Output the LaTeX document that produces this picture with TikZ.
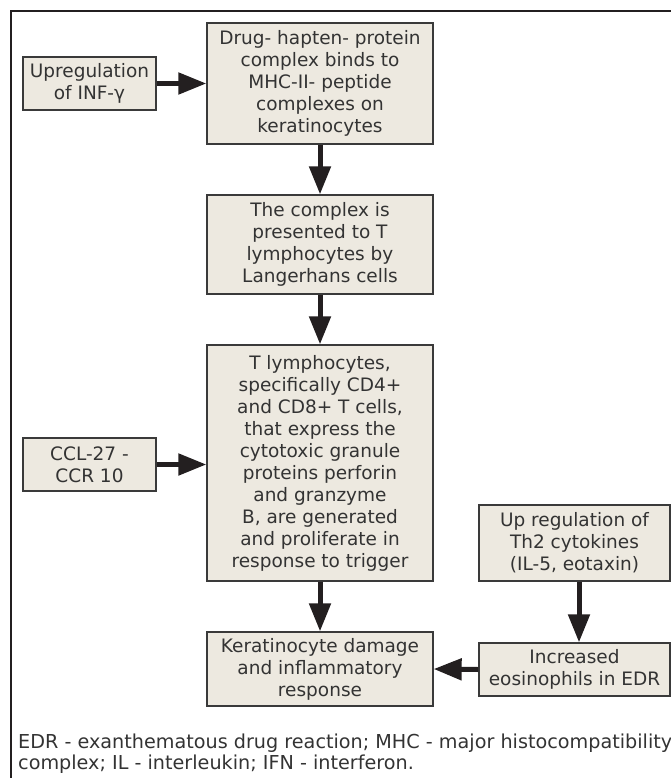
\documentclass[tikz,border=0pt]{standalone}
\usepackage{fontspec}
\setmainfont{DejaVu Sans}
\usetikzlibrary{arrows.meta}
\definecolor{boxfill}{HTML}{EDE9E0}
\definecolor{boxline}{HTML}{3A3A3A}
\definecolor{ink}{HTML}{333333}
\definecolor{arrowink}{HTML}{231F20}
\tikzset{
  flowbox/.style={draw=boxline, line width=1.3pt, fill=boxfill, text=ink,
    align=center, inner sep=0pt,
    font=\fontsize{18.5}{22}\selectfont},
  flowarrow/.style={draw=arrowink, line width=5pt,
    -{Triangle[length=28pt,width=21pt]}},
  captionline/.style={anchor=west, inner sep=0pt, text=ink,
    font=\fontsize{19.2}{21}\selectfont}
}
\begin{document}
\begin{tikzpicture}[x=1pt,y=-1pt]
  \useasboundingbox (0,0) rectangle (671,778);
  \clip (0,0) rectangle (671,778);
  % outer frame, running past the right and bottom edges
  \draw[line width=2.8pt, draw=arrowink] (11,11) rectangle (720,820);

  % boxes
  \node[flowbox, minimum width=133pt, minimum height=53pt] (infg) at (89.5,83.5)
    {Upregulation\\of INF-γ};
  \node[flowbox, minimum width=226pt, minimum height=121pt] (bind) at (320,83.5)
    {Drug- hapten- protein\\complex binds to\\MHC-II- peptide\\complexes on\\keratinocytes};
  \node[flowbox, minimum width=226pt, minimum height=99pt] (present) at (320,244.5)
    {The complex is\\presented to T\\lymphocytes by\\Langerhans cells};
  \node[flowbox, minimum width=226pt, minimum height=236pt] (tcells) at (320,463)
    {T lymphocytes,\\specifically CD4+\\and CD8+ T cells,\\that express the\\cytotoxic granule\\proteins perforin\\and granzyme\\B, are generated\\and proliferate in\\response to trigger};
  \node[flowbox, minimum width=133pt, minimum height=53pt] (ccl) at (89.5,464.5)
    {CCL-27 -\\CCR 10};
  \node[flowbox, minimum width=226pt, minimum height=74pt] (damage) at (320,669)
    {Keratinocyte damage\\and inflammatory\\response};
  \node[flowbox, minimum width=191pt, minimum height=76pt] (th2) at (574.5,543)
    {Up regulation of\\Th2 cytokines\\(IL-5, eotaxin)};
  \node[flowbox, minimum width=191pt, minimum height=53pt] (eos) at (574.5,669.5)
    {Increased\\eosinophils in EDR};

  % connectors
  \draw[flowarrow] (infg.east) -- (bind.west);
  \draw[flowarrow] (bind.south) -- (present.north);
  \draw[flowarrow] (present.south) -- (tcells.north);
  \draw[flowarrow] (ccl.east) -- (tcells.west |- ccl.east);
  \draw[flowarrow] (tcells.south) -- (damage.north);
  \draw[flowarrow] ([xshift=4.5pt]th2.south) -- ([xshift=4.5pt]eos.north);
  \draw[flowarrow] (eos.west) -- (damage.east);

  % abbreviations
  \node[captionline] (cap1) at (18,743)
    {EDR - exanthematous drug reaction; MHC - major histocompatibility};
  \node[captionline] (cap2) at (18,764)
    {complex; IL - interleukin; IFN - interferon.};
\end{tikzpicture}
\end{document}
